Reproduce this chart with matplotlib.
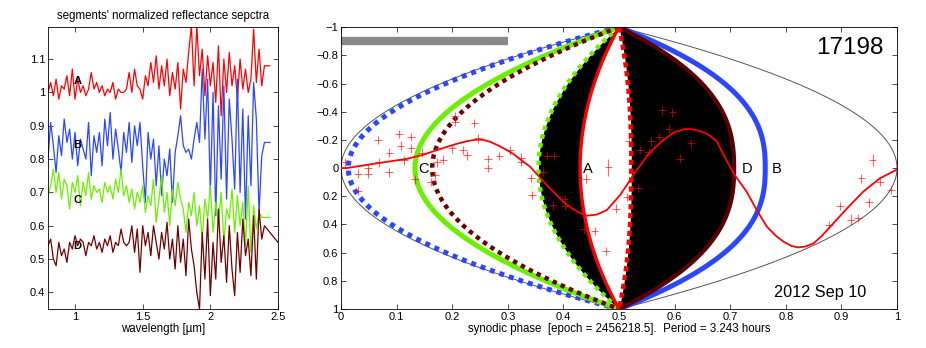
import numpy as np
import matplotlib.pyplot as plt

plt.rcParams['font.family'] = ['Liberation Sans', 'DejaVu Sans']
plt.rcParams['axes.linewidth'] = 0.6

# ---- left panel: segment spectra ----
wl = np.round(np.arange(0.80, 2.441, 0.02), 2)

spec_A = [1.00, 1.03, 0.99, 1.04, 0.98, 1.02, 1.01, 1.05, 0.99, 1.07,
          0.98, 1.04, 1.00, 1.02, 0.99, 1.01, 1.06, 1.01, 1.03, 1.00,
          1.02, 0.99, 1.01, 1.00, 1.03, 0.98, 1.01, 1.00, 1.00, 1.01,
          1.06, 1.00, 1.07, 1.02, 1.01, 0.98, 1.05, 1.02, 1.09, 1.03,
          1.11, 1.01, 1.08, 1.02, 1.10, 0.99, 1.06, 1.01, 1.09, 0.95,
          1.07, 1.03, 1.12, 1.20, 1.02, 1.20, 1.05, 1.13, 0.99, 1.11,
          1.02, 1.09, 0.97, 1.14, 0.93, 1.10, 1.00, 1.12, 1.02, 1.08,
          0.98, 1.10, 1.01, 1.07, 1.00, 1.04, 1.19, 1.03, 1.13, 1.02,
          1.08, 1.08, 1.08]
spec_B = [0.80, 0.91, 0.84, 0.76, 0.87, 0.81, 0.92, 0.85, 0.89, 0.80,
          0.88, 0.78, 0.86, 0.83, 0.80, 0.91, 0.75, 0.87, 0.82, 0.88,
          0.78, 0.92, 0.84, 0.94, 0.80, 0.89, 0.83, 0.76, 0.88, 0.82,
          0.91, 0.79, 0.90, 0.84, 0.91, 0.78, 0.67, 0.88, 0.80, 0.86,
          0.72, 0.84, 0.69, 0.80, 0.75, 0.83, 0.67, 0.82, 0.87, 0.93,
          0.84, 0.82, 0.83, 0.80, 0.86, 0.91, 0.85, 1.07, 0.86, 1.04,
          0.70, 1.00, 0.63, 0.96, 0.74, 1.02, 0.68, 0.98, 0.86, 0.71,
          1.04, 0.70, 0.95, 0.62, 0.93, 0.72, 1.03, 0.92, 0.64, 0.81,
          0.85, 0.85, 0.85]
spec_C = [0.69, 0.72, 0.77, 0.70, 0.76, 0.68, 0.74, 0.72, 0.65, 0.73,
          0.70, 0.75, 0.66, 0.73, 0.69, 0.76, 0.68, 0.72, 0.70, 0.71,
          0.67, 0.73, 0.70, 0.72, 0.68, 0.74, 0.70, 0.77, 0.69, 0.72,
          0.67, 0.71, 0.65, 0.70, 0.67, 0.72, 0.64, 0.69, 0.66, 0.74,
          0.61, 0.68, 0.75, 0.64, 0.70, 0.60, 0.71, 0.66, 0.73, 0.68,
          0.65, 0.58, 0.67, 0.63, 0.70, 0.60, 0.66, 0.56, 0.68, 0.62,
          0.72, 0.58, 0.67, 0.61, 0.70, 0.55, 0.65, 0.62, 0.71, 0.58,
          0.69, 0.60, 0.67, 0.54, 0.72, 0.52, 0.66, 0.59, 0.64, 0.625,
          0.625, 0.625, 0.625]
wl_D = list(wl[:81]) + [2.50]
spec_D = [0.54, 0.56, 0.50, 0.48, 0.55, 0.51, 0.53, 0.49, 0.55, 0.53,
          0.57, 0.54, 0.56, 0.55, 0.51, 0.55, 0.54, 0.57, 0.53, 0.55,
          0.52, 0.56, 0.54, 0.57, 0.52, 0.55, 0.54, 0.59, 0.55, 0.54,
          0.55, 0.60, 0.52, 0.59, 0.46, 0.60, 0.54, 0.58, 0.51, 0.60,
          0.55, 0.50, 0.58, 0.53, 0.61, 0.50, 0.56, 0.47, 0.60, 0.49,
          0.56, 0.45, 0.62, 0.53, 0.48, 0.40, 0.35, 0.58, 0.44, 0.62,
          0.39, 0.55, 0.44, 0.65, 0.49, 0.57, 0.43, 0.60, 0.47, 0.39,
          0.58, 0.46, 0.62, 0.51, 0.56, 0.45, 0.63, 0.44, 0.65, 0.56,
          0.60, 0.55]

seg_names = ['A', 'B', 'C', 'D']
seg_colors = ['#ff0000', '#2a46ff', '#6af000', '#700000']
spec_label_y = [1.033, 0.843, 0.678, 0.539]

# ---- right panel: lightcurve ----
phase_pts = [0.008, 0.030, 0.031, 0.048, 0.049, 0.066, 0.068, 0.086, 0.087, 0.104,
             0.107, 0.113, 0.126, 0.126, 0.133, 0.146, 0.162, 0.169, 0.172, 0.184,
             0.205, 0.205, 0.200, 0.220, 0.226, 0.240, 0.246, 0.265, 0.265, 0.285,
             0.304, 0.323, 0.323, 0.342, 0.343, 0.364, 0.370, 0.383, 0.381, 0.402,
             0.403, 0.441, 0.437, 0.456, 0.476, 0.481, 0.495, 0.514, 0.518, 0.534,
             0.538, 0.554, 0.557, 0.572, 0.577, 0.596, 0.590, 0.610, 0.629, 0.878,
             0.897, 0.917, 0.930, 0.950, 0.936, 0.956, 0.970, 0.989]
mag_pts = [-0.04, 0.04, 0.16, 0.04, 0.00, -0.20, -0.04, 0.03, -0.11, -0.24,
           -0.16, -0.055, -0.22, -0.14, 0.08, -0.11, 0.10, 0.05, -0.04, -0.06,
           -0.37, -0.33, -0.14, -0.13, -0.09, -0.32, -0.21, -0.065, 0.00, -0.085,
           -0.125, -0.075, -0.045, 0.07, 0.19, 0.025, -0.085, -0.085, 0.265, 0.22,
           0.27, 0.075, 0.435, 0.445, 0.59, -0.005, 0.287, 0.205, -0.19, 0.142,
           -0.128, -0.116, -0.19, -0.22, -0.41, -0.395, -0.28, -0.068, -0.175, 0.405,
           0.27, 0.365, 0.355, 0.243, 0.073, -0.057, 0.097, 0.156]
mag_err = [0.03] * len(mag_pts)
mag_err[45] = 0.06
mag_err[65] = 0.045
mag_err[61] = 0.04

fit_phase = [0.0, 0.01, 0.058, 0.118, 0.148, 0.178, 0.208, 0.228, 0.244, 0.256,
             0.268, 0.283, 0.298, 0.31, 0.328, 0.34, 0.355, 0.37, 0.385, 0.40,
             0.415, 0.43, 0.442, 0.46, 0.478, 0.502, 0.52, 0.532, 0.555, 0.58,
             0.60, 0.619, 0.632, 0.646, 0.662, 0.676, 0.69, 0.706, 0.73, 0.748,
             0.766, 0.782, 0.796, 0.81, 0.822, 0.836, 0.85, 0.865, 0.88, 0.91,
             0.939, 0.969, 1.0]
fit_mag = [0.0, 0.0, -0.03, -0.065, -0.095, -0.135, -0.172, -0.192, -0.202, -0.2,
           -0.187, -0.16, -0.128, -0.1, -0.045, -0.01, 0.055, 0.12, 0.18, 0.24,
           0.285, 0.32, 0.338, 0.33, 0.298, 0.191, 0.085, 0.014, -0.11, -0.2,
           -0.255, -0.277, -0.275, -0.262, -0.235, -0.19, -0.08, 0.038, 0.17, 0.30,
           0.416, 0.48, 0.522, 0.552, 0.563, 0.556, 0.534, 0.48, 0.416, 0.286,
           0.168, 0.073, 0.01]

# segment boundary meridians: (apex phase, shape exponent, colour, width, style)
meridians = [
    (0.0, 2.0, '#555555', 0.7, '-'),
    (1.0, 2.0, '#555555', 0.7, '-'),
    (0.013, 2.0, '#2a46ff', 3.6, (0, (1, 1))),
    (0.763, 2.5, '#2a46ff', 3.6, '-'),
    (0.133, 2.0, '#6af000', 3.6, '-'),
    (0.355, 2.0, '#6af000', 3.2, (0, (1, 1))),
    (0.164, 2.0, '#6b0000', 3.2, (0, (1, 1))),
    (0.707, 2.5, '#5a0000', 3.0, '-'),
    (0.430, 2.0, '#ff0000', 2.4, '-'),
    (0.522, 2.5, '#ff0000', 3.2, (0, (1.2, 0.8))),
]
black_zones = [((0.355, 2.0), (0.430, 2.0)), ((0.522, 2.5), (0.707, 2.5))]
seg_label_x = {'C': 0.149, 'A': 0.444, 'D': 0.73, 'B': 0.784}

yy = np.linspace(-1, 1, 401)


def meridian(apex, p):
    return 0.5 + (apex - 0.5) * (1 - np.abs(yy) ** p)


fig = plt.figure(figsize=(9.26, 3.48), dpi=100)

ax1 = fig.add_axes([0.0518, 0.112, 0.2484, 0.810])
for y, name, c in zip([spec_A, spec_B, spec_C], seg_names[:3], seg_colors[:3]):
    ax1.plot(wl, y, color=c, lw=0.9)
ax1.plot(wl_D, spec_D, color=seg_colors[3], lw=0.9)
for name, ly in zip(seg_names, spec_label_y):
    ax1.text(1.02, ly, name, fontsize=8, fontweight='bold', ha='center', va='center')
ax1.set_xlim(0.8, 2.5)
ax1.set_ylim(0.35, 1.196)
ax1.set_xticks([1, 1.5, 2, 2.5])
ax1.set_xticklabels(['1', '1.5', '2', '2.5'])
ax1.set_yticks([0.4, 0.5, 0.6, 0.7, 0.8, 0.9, 1.0, 1.1])
ax1.set_yticklabels(['0.4', '0.5', '0.6', '0.7', '0.8', '0.9', '1', '1.1'])
ax1.set_title("segments' normalized reflectance sepctra", fontsize=8.3, pad=6)
ax1.set_xlabel('wavelength [µm]', fontsize=8.3, labelpad=1)

ax2 = fig.add_axes([0.3683, 0.112, 0.6004, 0.810])
for lo, hi in black_zones:
    ax2.fill_betweenx(yy, meridian(*lo), meridian(*hi), color='black', lw=0)
for apex, p, c, w, ls in meridians:
    ax2.plot(meridian(apex, p), yy, color=c, lw=w, ls=ls, dash_capstyle='butt')
ax2.plot([0, 0.3], [-0.905, -0.905], color='#8a8a8a', lw=6, solid_capstyle='butt')
ax2.errorbar(phase_pts, mag_pts, yerr=mag_err, xerr=0.007, fmt='none',
             ecolor='red', elinewidth=0.8, alpha=0.6, capsize=0, zorder=5)
ax2.plot(fit_phase, fit_mag, color='red', lw=1.3, zorder=6)
for name, lx in seg_label_x.items():
    ax2.text(lx, 0.01, name, fontsize=10.5, ha='center', va='center', zorder=7)
ax2.text(0.976, -0.85, '17198', fontsize=17.5, ha='right', va='center')
ax2.text(0.944, 0.88, '2012 Sep 10', fontsize=11.7, ha='right', va='center')
ax2.set_xlim(0, 1)
ax2.set_ylim(1, -1)
ax2.set_xticks(np.round(np.arange(0, 1.01, 0.1), 1))
ax2.set_xticklabels(['0', '0.1', '0.2', '0.3', '0.4', '0.5', '0.6', '0.7', '0.8', '0.9', '1'])
ax2.set_yticks(np.round(np.arange(-1, 1.01, 0.2), 1))
ax2.set_yticklabels(['\u22121', '\u22120.8', '\u22120.6', '\u22120.4', '\u22120.2', '0',
                     '0.2', '0.4', '0.6', '0.8', '1'])
ax2.set_xlabel('synodic phase  [epoch = 2456218.5].  Period = 3.243 hours',
               fontsize=8.3, labelpad=1)

for ax in (ax1, ax2):
    ax.tick_params(direction='in', top=True, right=True, length=3.5, width=0.5,
                   labelsize=8, pad=2)

fig.savefig('out.png', dpi=100)
